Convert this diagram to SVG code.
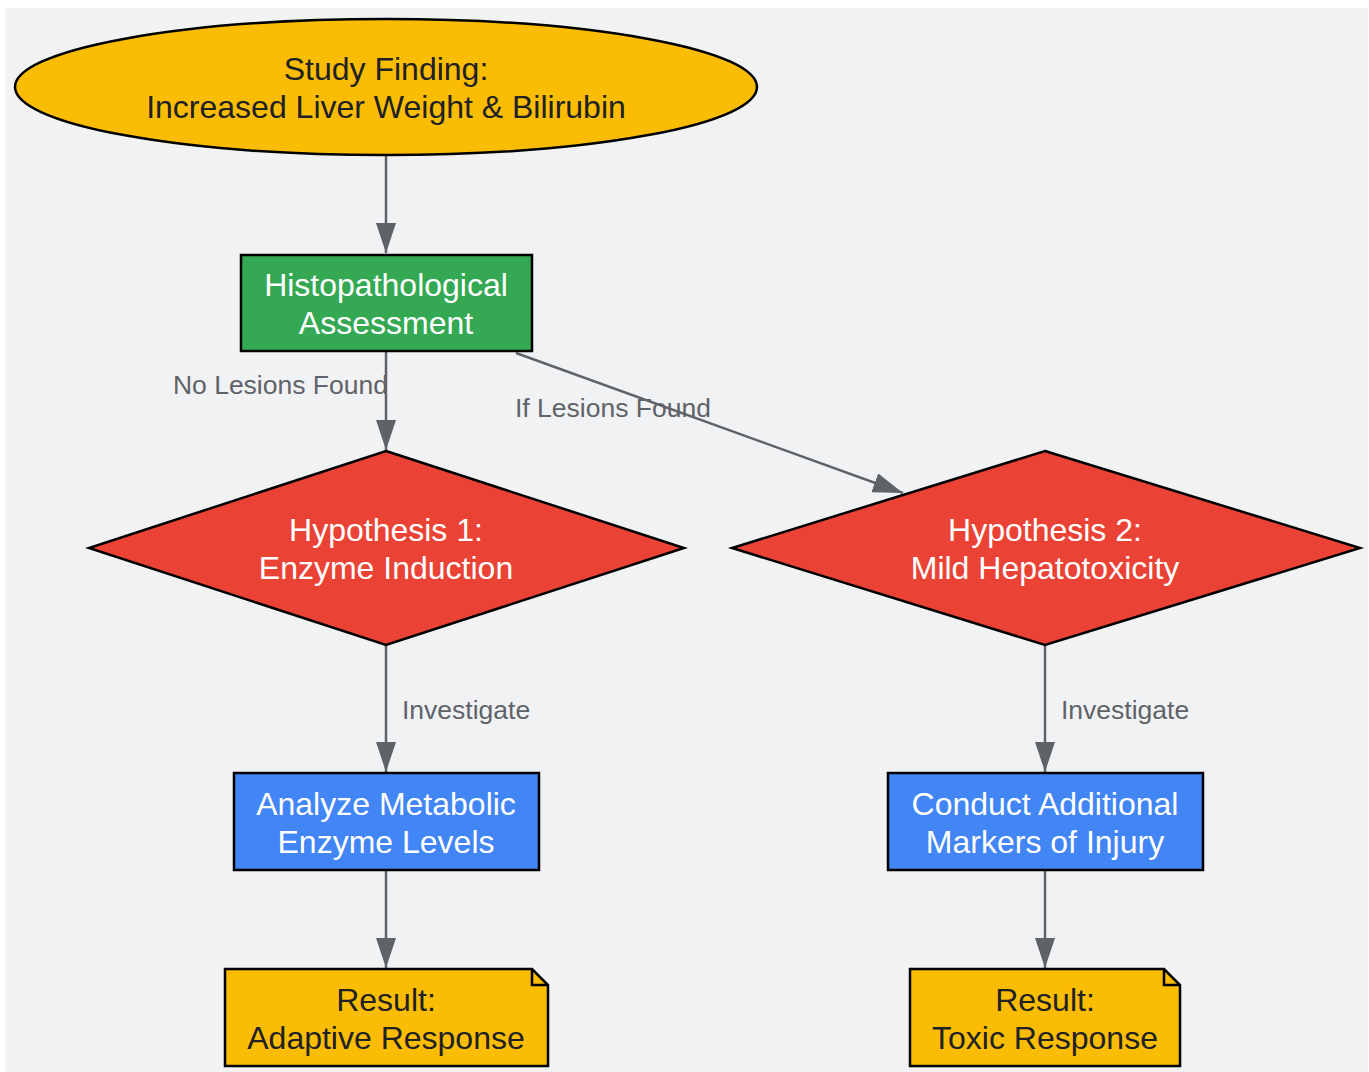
<svg xmlns="http://www.w3.org/2000/svg" width="1369" height="1072" viewBox="0 0 1369 1072">
<defs>
<marker id="arr" viewBox="0 0 30 20" refX="30" refY="10" markerWidth="30" markerHeight="20" markerUnits="userSpaceOnUse" orient="auto">
<path d="M0,0 L30,10 L0,20 Z" fill="#5F6368"/>
</marker>
<style>
.n{stroke:#000;stroke-width:2.5}
.t{font-family:"Liberation Sans",Arial,sans-serif;font-size:32px;text-anchor:middle}
.dk{fill:#202124}
.wh{fill:#ffffff}
.e{fill:none;stroke:#5F6368;stroke-width:2.5;marker-end:url(#arr)}
.l{font-family:"Liberation Sans",Arial,sans-serif;font-size:26.5px;fill:#5F6368}
</style>
</defs>
<rect x="5" y="8" width="1363" height="1064" fill="#F1F2F4"/>
<g id="connectors">
<path class="e" d="M386,156 L386,253"/>
<path class="e" d="M386,352 L386,450"/>
<path class="e" d="M516,353 L903,493"/>
<path class="e" d="M386,646 L386,772"/>
<path class="e" d="M1045,646 L1045,772"/>
<path class="e" d="M386,871 L386,968"/>
<path class="e" d="M1045,871 L1045,968"/>
<text class="l" x="388" y="393.5" text-anchor="end">No Lesions Found</text>
<text class="l" x="515" y="416.5">If Lesions Found</text>
<text class="l" x="402" y="718.5">Investigate</text>
<text class="l" x="1061" y="718.5">Investigate</text>
</g>
<g id="study">
<ellipse class="n" cx="386" cy="87" rx="371" ry="68" fill="#FBBC04"/>
<text class="t dk" x="386" y="80">Study Finding:</text>
<text class="t dk" x="386" y="118">Increased Liver Weight &amp; Bilirubin</text>
</g>
<g id="histo">
<rect class="n" x="241" y="255" width="291" height="96" fill="#34A853"/>
<text class="t wh" x="386" y="296">Histopathological</text>
<text class="t wh" x="386" y="334">Assessment</text>
</g>
<g id="h1">
<polygon class="n" points="386,451 684,548 386,645 89,548" fill="#EA4335"/>
<text class="t wh" x="386" y="541">Hypothesis 1:</text>
<text class="t wh" x="386" y="579">Enzyme Induction</text>
</g>
<g id="h2">
<polygon class="n" points="1045,451 1360,548 1045,645 732,548" fill="#EA4335"/>
<text class="t wh" x="1045" y="541">Hypothesis 2:</text>
<text class="t wh" x="1045" y="579">Mild Hepatotoxicity</text>
</g>
<g id="analyze">
<rect class="n" x="234" y="773" width="305" height="97" fill="#4285F4"/>
<text class="t wh" x="386" y="815">Analyze Metabolic</text>
<text class="t wh" x="386" y="853">Enzyme Levels</text>
</g>
<g id="conduct">
<rect class="n" x="888" y="773" width="315" height="97" fill="#4285F4"/>
<text class="t wh" x="1045" y="815">Conduct Additional</text>
<text class="t wh" x="1045" y="853">Markers of Injury</text>
</g>
<g id="adaptive">
<path class="n" d="M225,969 L532,969 L548,985 L548,1066 L225,1066 Z" fill="#FBBC04"/>
<path class="n" d="M532,969 L532,985 L548,985" fill="none" stroke-width="1.5"/>
<text class="t dk" x="386" y="1011">Result:</text>
<text class="t dk" x="386" y="1049">Adaptive Response</text>
</g>
<g id="toxic">
<path class="n" d="M910,969 L1164,969 L1180,985 L1180,1066 L910,1066 Z" fill="#FBBC04"/>
<path class="n" d="M1164,969 L1164,985 L1180,985" fill="none" stroke-width="1.5"/>
<text class="t dk" x="1045" y="1011">Result:</text>
<text class="t dk" x="1045" y="1049">Toxic Response</text>
</g>
</svg>
